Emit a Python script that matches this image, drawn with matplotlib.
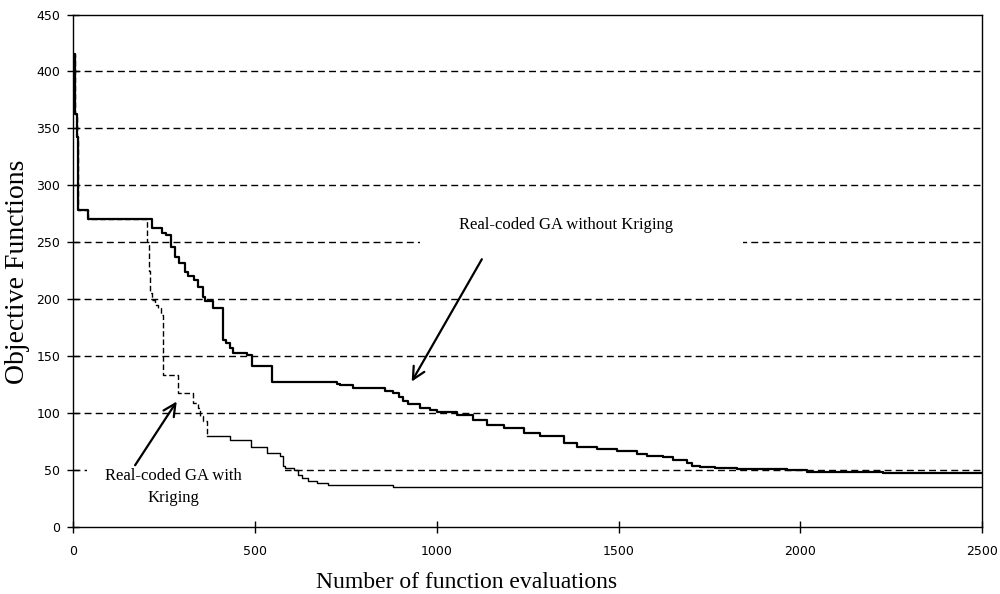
import numpy as np
import matplotlib
matplotlib.use("Agg")
import matplotlib.pyplot as plt
from matplotlib.patches import Rectangle

# ---------------- data ----------------
no_krig_evals = [0, 5, 10, 14, 41, 216, 243, 256, 270, 279, 292, 306, 315, 333,
                 342, 356, 362, 385, 412, 421, 430, 440, 477, 491, 546, 725, 734,
                 770, 858, 880, 895, 907, 921, 953, 980, 1000, 1055, 1101, 1138,
                 1184, 1239, 1284, 1349, 1385, 1440, 1495, 1550, 1577, 1623, 1651,
                 1688, 1701, 1724, 1765, 1825, 1963, 2018, 2229, 2440, 2500]
no_krig_obj = [415, 363, 342, 278, 270, 262, 258, 256.5, 246, 237, 232, 224, 220, 217,
               211, 202, 198, 192, 164, 161, 157, 153, 151, 141, 127.5, 125.6, 124.5,
               121.7, 119.5, 117.6, 114, 110, 108, 104.4, 102.9, 100.5, 98.4, 94, 89.6,
               86.6, 82.5, 79.3, 73.3, 70.3, 68, 66.5, 63.9, 62.1, 61, 58.6,
               55.7, 53.4, 52.8, 51.9, 50.7, 49.8, 48.4, 47.5, 46.9, 46.9]

krig_evals = [0, 5, 10, 14, 41, 204, 208, 212, 217, 225, 232, 240, 248, 289, 330,
              343, 349, 358, 367, 431, 489, 532, 568, 578, 582, 607, 618, 630, 645,
              670, 700, 880, 2500]
krig_obj = [415, 363, 342, 278, 270, 250, 225, 205, 199, 195, 192, 186, 133, 117.6, 108.8,
            104, 96.9, 92.5, 79.3, 76, 69.7, 64.6, 61.8, 53, 51.5, 49.8, 45, 42.5, 39.8,
            38.7, 36.7, 35.2, 35.2]
krig_dash_end = 367   # the early part of the Kriging run is drawn dashed

x_ticks = [0, 500, 1000, 1500, 2000, 2500]
y_ticks = [0, 50, 100, 150, 200, 250, 300, 350, 400, 450]
grid_levels = [50, 100, 150, 200, 250, 300, 350, 400]

x_label = "Number of function evaluations"
y_label = "Objective Functions"
label_without = "Real-coded GA without Kriging"
label_with = "Real-coded GA with\nKriging"

# ---------------- figure ----------------
W, H = 1000, 594
fig = plt.figure(figsize=(W / 100, H / 100), dpi=100)
ax_l, ax_r, ax_t, ax_b = 73.3, 982.0, 14.5, 526.7
ax = fig.add_axes([ax_l / W, 1 - ax_b / H, (ax_r - ax_l) / W, (ax_b - ax_t) / H])

serif = ["Liberation Serif", "DejaVu Serif"]

ax.set_xlim(0, 2500)
ax.set_ylim(0, 450)
ax.set_xticks(x_ticks)
ax.set_yticks(y_ticks)
ax.tick_params(direction="inout", length=8.5, width=1.0, colors="black",
               labelsize=9)
ax.tick_params(axis="x", pad=9)
ax.tick_params(axis="y", pad=5)
for lab in ax.get_xticklabels() + ax.get_yticklabels():
    lab.set_family("DejaVu Sans")
for sp in ax.spines.values():
    sp.set_linewidth(1.0)
    sp.set_color("black")

# gridlines (dashed, black)
for g in grid_levels:
    ax.axhline(g, color="black", lw=1.0, ls=(0, (5, 3)), zorder=0.5)

# white gaps behind the annotation texts
ax.add_patch(Rectangle((954, 243), 889, 14, facecolor="white", edgecolor="none", zorder=1))
ax.add_patch(Rectangle((38, 44), 545, 12, facecolor="white", edgecolor="none", zorder=1))

# curves
kx = np.array(krig_evals, dtype=float)
ky = np.array(krig_obj, dtype=float)
i_split = int(np.searchsorted(kx, krig_dash_end))
ax.step(kx[:i_split + 1], ky[:i_split + 1], where="post", color="black",
        lw=1.0, ls=(0, (4, 2)), zorder=2)
ax.step(kx[i_split:], ky[i_split:], where="post", color="black", lw=1.0, zorder=2)

ax.step(no_krig_evals, no_krig_obj, where="post", color="black", lw=1.6, zorder=3)

# annotations
ax.text(1356, 265, label_without, ha="center", va="center", fontsize=12,
        family=serif, zorder=4)
ax.text(275, 35, label_with, ha="center", va="center", fontsize=12,
        family=serif, linespacing=1.45, zorder=4)
ax.annotate("", xy=(931, 127.5), xytext=(1124, 235),
            arrowprops=dict(arrowstyle="->", color="black", lw=1.6,
                            mutation_scale=22, shrinkA=0, shrinkB=0), zorder=4)
ax.annotate("", xy=(284.5, 110), xytext=(170, 54),
            arrowprops=dict(arrowstyle="->", color="black", lw=1.6,
                            mutation_scale=22, shrinkA=0, shrinkB=0), zorder=4)

# axis titles
fig.text(467 / W, 1 - 588 / H, x_label, ha="center", va="baseline",
         fontsize=17, family=serif)
fig.text(17.5 / W, 1 - 272 / H, y_label, ha="center", va="center",
         rotation=90, fontsize=20, family=serif)

fig.savefig("out.png", dpi=100, facecolor="white")
